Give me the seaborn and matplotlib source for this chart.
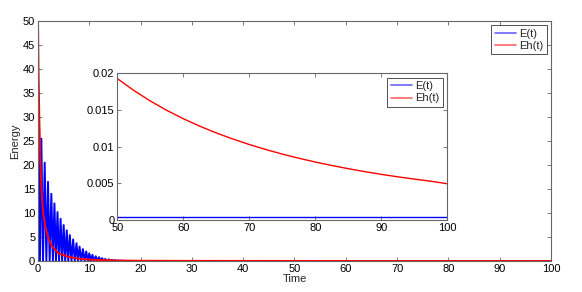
import numpy as np
import pandas as pd
import matplotlib
matplotlib.use("Agg")
import matplotlib.pyplot as plt
import seaborn as sns

# E(t): oscillating energy, read as peak times / peak heights (troughs at zero)
e_peak_t = [0.1, 0.65, 1.3, 1.95, 2.6, 3.2, 3.8, 4.4, 5.0, 5.6, 6.2, 6.85, 7.5,
            8.1, 8.75, 9.4, 10.0, 10.6, 11.25, 11.9, 12.5, 13.1, 13.8, 14.4,
            15.0, 15.6, 16.2, 16.85, 17.5]
e_peak_v = [33, 25.5, 20.5, 16.5, 14.0, 12.0, 10.2, 8.8, 7.5, 6.4, 5.4, 4.5, 3.7,
            3.0, 2.5, 2.0, 1.6, 1.3, 1.0, 0.8, 0.6, 0.45, 0.35, 0.25, 0.18,
            0.12, 0.09, 0.06, 0.04]
e_tail_t = [18.5, 20, 30, 40, 50, 60, 70, 80, 90, 100]
e_tail_v = [0.0004] * 10

# Eh(t): fast decay at the start, then the slow tail shown in the inset
eh_t = [0, 0.1, 0.25, 0.45, 0.7, 1.0, 1.5, 2.0, 2.7, 4.0, 6.0, 8.0, 10.0, 15.0,
        20.0, 30.0, 40.0,
        50, 52.5, 55, 57.5, 60, 62.5, 65, 67.5, 70, 72.5, 75, 77.5, 80,
        82.5, 85, 87.5, 90, 92.5, 95, 97.5, 100]
eh_v = [50, 40, 30, 21, 14.5, 10, 6.8, 4.8, 3.1, 1.6, 0.85, 0.5, 0.3, 0.12,
        0.06, 0.035, 0.026,
        0.0193, 0.01768, 0.01624, 0.01496, 0.01382, 0.0128, 0.01188, 0.01105,
        0.0103, 0.00962, 0.00899, 0.00843, 0.00791, 0.00744, 0.007, 0.0066,
        0.00623, 0.00589, 0.00558, 0.00529, 0.00495]

# build zigzag E series from peaks, troughs halfway between
e_t, e_v = [0.0], [0.0]
for i, (t, v) in enumerate(zip(e_peak_t, e_peak_v)):
    e_t.append(t)
    e_v.append(v)
    nxt = e_peak_t[i + 1] if i + 1 < len(e_peak_t) else t + 0.6
    e_t.append((t + nxt) / 2)
    e_v.append(0.0)
e_t += e_tail_t
e_v += e_tail_v

df_e = pd.DataFrame({"Time": e_t, "Energy": e_v})
df_eh = pd.DataFrame({"Time": eh_t, "Energy": eh_v})

sns.set_style("ticks")
plt.rcParams['font.family'] = ['Liberation Sans', 'DejaVu Sans']
plt.rcParams['font.size'] = 8

fig = plt.figure(figsize=(5.82, 2.92), dpi=100)
ax = fig.add_axes([0.0653, 0.106, 0.8814, 0.822])
ins = fig.add_axes([0.2015, 0.2466, 0.567, 0.502])

spine_col = "#666666"


def style(a):
    for s in a.spines.values():
        s.set_color(spine_col)
        s.set_linewidth(0.8)
        s.set_visible(True)
    a.tick_params(direction="in", length=3, width=0.6, color=spine_col,
                  top=True, right=True, labelsize=8, pad=2, labelcolor="black")


for a, e_df, eh_df, xlim, ylim, lw in [
    (ax, df_e, df_eh, (0, 100), (0, 50), 1.4),
    (ins, df_e[df_e.Time >= 18.5], df_eh[df_eh.Time >= 50], (50, 100), (0, 0.02), 1.0),
]:
    sns.lineplot(data=e_df, x="Time", y="Energy", color="blue", lw=lw,
                 estimator=None, ax=a, label="E(t)")
    sns.lineplot(data=eh_df, x="Time", y="Energy", color="red", lw=lw,
                 estimator=None, ax=a, label="Eh(t)")
    a.set_xlim(*xlim)
    a.set_ylim(*ylim)
    style(a)
    leg = a.legend(loc="upper right", fontsize=8, frameon=True, fancybox=False,
                   handlelength=1.9, handletextpad=0.3, borderpad=0.3,
                   labelspacing=0.2, borderaxespad=0.4)
    leg.get_frame().set_edgecolor("black")
    leg.get_frame().set_linewidth(0.6)
    for h in leg.get_lines():
        h.set_alpha(0.6)
        h.set_linewidth(1.2)

ax.set_xticks(np.arange(0, 101, 10))
ax.set_yticks(np.arange(0, 51, 5))
ax.set_xlabel("Time", fontsize=8, labelpad=0)
ax.set_ylabel("Energy", fontsize=8, labelpad=2)

ins.set_xticks(np.arange(50, 101, 10))
ins.set_yticks([0, 0.005, 0.01, 0.015, 0.02])
ins.set_yticklabels(["0", "0.005", "0.01", "0.015", "0.02"])
ins.set_xlabel("")
ins.set_ylabel("")

fig.savefig("out.png", dpi=100)
